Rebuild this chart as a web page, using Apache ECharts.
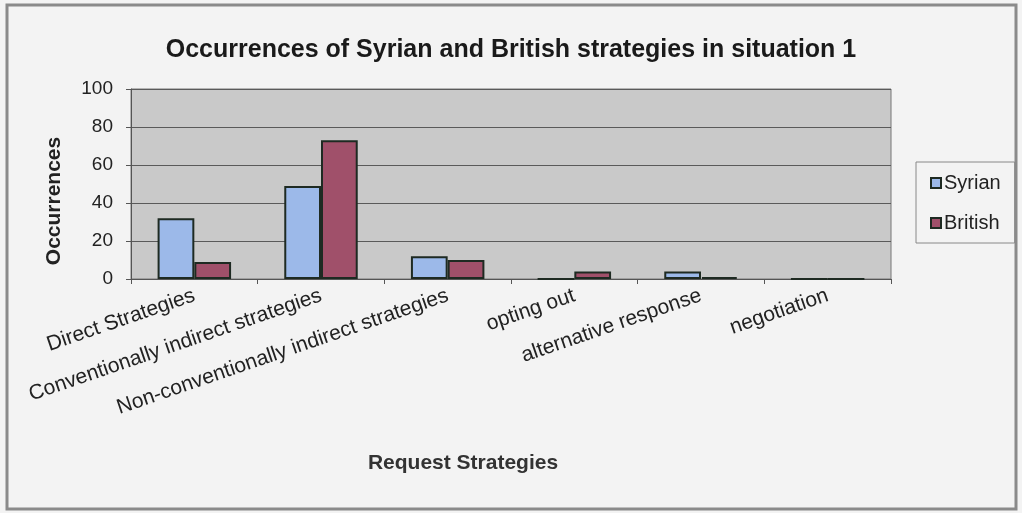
<!DOCTYPE html>
<html>
<head>
<meta charset="utf-8">
<script src="https://cdn.jsdelivr.net/npm/echarts@6/dist/echarts.min.js"></script>
<style>
html, body { margin: 0; padding: 0; background: #f3f3f3; }
#main { width: 1022px; height: 513px; }
</style>
</head>
<body>
<div id="main"></div>
<script>
// data
var categories = ['Direct Strategies', 'Conventionally indirect strategies', 'Non-conventionally indirect strategies', 'opting out', 'alternative response', 'negotiation'];
var syrian = [32, 49, 12, 0, 4, 0];
var british = [9, 73, 10, 4, 1, 0];
var yTicks = [0, 20, 40, 60, 80, 100];

var chart = echarts.init(document.getElementById('main'));

var fontFam = '"Liberation Sans", Arial, sans-serif';

var option = {
    backgroundColor: '#f3f3f3',
    animation: false,
    textStyle: { fontFamily: fontFam },
    title: {
        text: 'Occurrences of Syrian and British strategies in situation 1',
        left: 'center',
        top: 33,
        textStyle: { fontSize: 25, fontWeight: 'bold', color: '#1a1a1a', fontFamily: fontFam }
    },
    graphic: [{
        //外框
        type: 'rect',
        shape: { x: 7, y: 5, width: 1009, height: 504 },
        style: { fill: 'none', stroke: '#8a8a8a', lineWidth: 3 },
        silent: true,
        z: -1
    }],
    legend: {
        data: ['Syrian', 'British'],
        orient: 'vertical',
        left: 916,
        top: 162,
        width: 97,
        padding: [11, 14, 10, 14],
        itemGap: 20,
        itemWidth: 10,
        itemHeight: 10,
        icon: 'rect',
        borderColor: '#888',
        borderWidth: 1,
        textStyle: { fontSize: 20, color: '#222', padding: [0, 0, 0, -2] }
    },
    grid: {
        left: 131,
        right: 131,
        top: 89,
        bottom: 234,
        show: true,
        backgroundColor: '#c9c9c9',
        borderColor: '#777',
        borderWidth: 1
    },
    xAxis: {
        type: 'category',
        data: categories,
        name: 'Request Strategies',
        nameLocation: 'middle',
        nameGap: 174,
        nameTextStyle: { fontSize: 21, fontWeight: 'bold', color: '#333', padding: [0, 96, 0, 0] },
        axisLine: { lineStyle: { color: '#555', width: 1 } },
        axisTick: { show: true, alignWithLabel: false, length: 5, lineStyle: { color: '#555' } },
        axisLabel: { rotate: 19, fontSize: 21, color: '#222', margin: 16, interval: 0 }
    },
    yAxis: {
        type: 'value',
        min: 0,
        max: 100,
        interval: 20,
        name: 'Occurrences',
        nameLocation: 'middle',
        nameGap: 66,
        nameTextStyle: { fontSize: 21, fontWeight: 'bold', color: '#222', padding: [0, 34, 0, 0] },
        axisLine: { show: true, lineStyle: { color: '#555' } },
        axisTick: { show: true, length: 5, lineStyle: { color: '#555' } },
        axisLabel: {
            fontSize: 19, color: '#222', margin: 18,
            formatter: function (v) { return yTicks.indexOf(v) >= 0 ? String(v) : ''; }
        },
        splitLine: { lineStyle: { color: '#5a5a5a', width: 1 } }
    },
    series: [{
        name: 'Syrian',
        type: 'bar',
        data: syrian,
        barGap: '0%',
        barCategoryGap: '42%',
        itemStyle: { color: '#9cb9e9', borderColor: '#1e2a22', borderWidth: 2 }
    }, {
        name: 'British',
        type: 'bar',
        data: british,
        itemStyle: { color: '#a0506a', borderColor: '#1e2a22', borderWidth: 2 }
    }]
};

chart.setOption(option);
</script>
</body>
</html>
